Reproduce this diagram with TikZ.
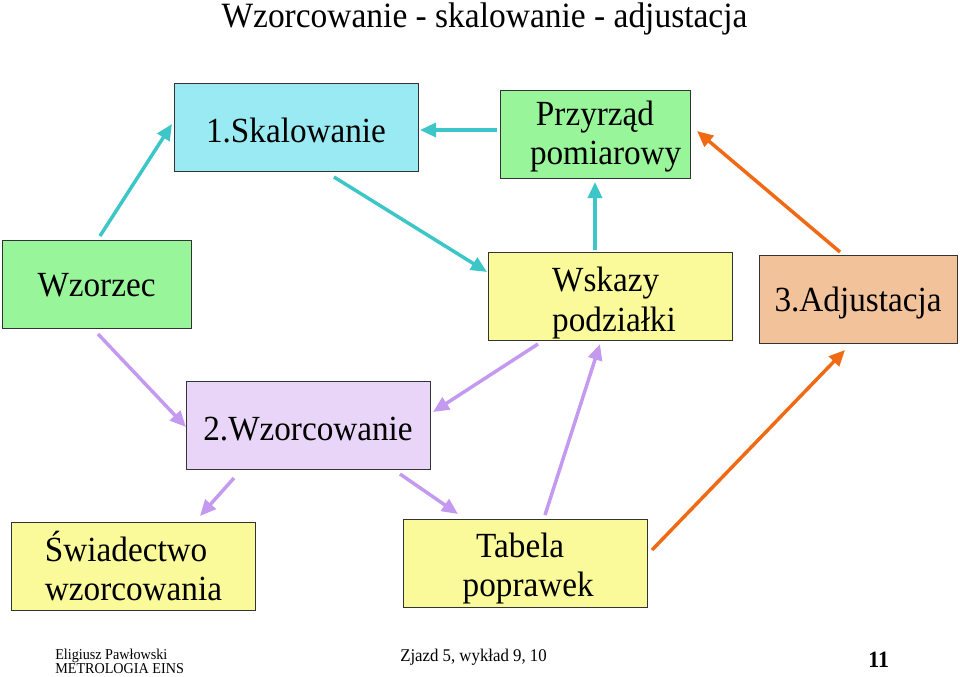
\documentclass[tikz,border=0pt]{standalone}
\usepackage{fontspec}
\setmainfont{Liberation Serif}[FakeStretch=0.94]
\usetikzlibrary{arrows.meta}
\definecolor{fcyan}{HTML}{99EAF2}
\definecolor{fgreen}{HTML}{99F599}
\definecolor{fyellow}{HTML}{FAFA9A}
\definecolor{forange}{HTML}{F2C29B}
\definecolor{flav}{HTML}{E8D5F7}
\definecolor{acyan}{HTML}{3CC6C8}
\definecolor{aorange}{HTML}{F06A14}
\definecolor{alav}{HTML}{C49AF0}
% text block lowered by #2 without changing the box size
\newcommand\boxtext[3][c]{\raisebox{-#2}[\height][\depth]{\begin{tabular}{@{}#1@{}}#3\end{tabular}}}
\begin{document}
\begin{tikzpicture}[x=0.75pt,y=-0.75pt,
  box/.style={draw=black!80, line width=0.7pt, align=center, inner sep=0pt,
    minimum height=66pt, font=\fontsize{26.5}{29.5}\selectfont},
  wbig/.style={minimum width=183pt},
  conn/.style={line width=2.6pt, -{Triangle[length=12pt,width=10.5pt]}},
  cyanarr/.style={conn, draw=acyan, fill=acyan},
  orarr/.style={conn, draw=aorange, fill=aorange},
  lavarr/.style={conn, draw=alav, fill=alav},
  foot/.style={inner sep=0pt, anchor=base west}
]
\useasboundingbox (0,0) rectangle (960,676);
\fill[white] (0,0) rectangle (960,676);

\node[inner sep=0pt, anchor=base, font=\fontsize{26.7}{30}\selectfont] (title) at (484.5,27.5) {Wzorcowanie - skalowanie - adjustacja};

\node[box, wbig, fill=fcyan] (sk) at (296,127) {\boxtext{5.5pt}{1.Skalowanie}};
\node[box, minimum width=142.5pt, fill=fgreen] (prz) at (595,134) {\boxtext{2.3pt}{Przyrząd\\\hspace*{16pt}pomiarowy}};
\node[box, minimum width=141.75pt, fill=fgreen] (wz) at (96.5,284) {\boxtext{3.5pt}{Wzorzec}};
\node[box, wbig, fill=fyellow] (wsk) at (610,296) {\hspace*{6pt}\boxtext[l]{5.7pt}{Wskazy\\podziałki}};
\node[box, minimum width=148.5pt, fill=forange] (adj) at (858,299) {\boxtext{3.8pt}{3.Adjustacja}};
\node[box, wbig, fill=flav] (wzc) at (308,425) {\boxtext{6pt}{2.Wzorcowanie}};
\node[box, wbig, fill=fyellow] (sw) at (133.5,566) {\boxtext[l]{4.2pt}{Świadectwo\\wzorcowania}};
\node[box, wbig, fill=fyellow] (tab) at (525.5,563) {\boxtext{4.5pt}{Tabela\hspace*{8pt}\\\hspace*{4pt}poprawek}};

% connector end points
\coordinate (c1s) at (100,236); \coordinate (c1e) at (172,124);
\coordinate (c2s) at (497,130); \coordinate (c2e) at (420,130);
\coordinate (c3s) at (334,177); \coordinate (c3e) at (487,272);
\coordinate (c4s) at (595,250); \coordinate (c4e) at (595,182);
\coordinate (o1s) at (840,252); \coordinate (o1e) at (697,131);
\coordinate (o2s) at (652,550); \coordinate (o2e) at (845,350);
\coordinate (l1s) at (98,334);  \coordinate (l1e) at (186,427);
\coordinate (l2s) at (538,344); \coordinate (l2e) at (433,412);
\coordinate (l3s) at (234,478); \coordinate (l3e) at (200,516);
\coordinate (l4s) at (400,474); \coordinate (l4e) at (458,514);
\coordinate (l5s) at (545,515); \coordinate (l5e) at (600,344);

\draw[cyanarr] (c1s) -- (c1e);
\draw[cyanarr] (c2s) -- (c2e);
\draw[cyanarr] (c3s) -- (c3e);
\draw[cyanarr] (c4s) -- (c4e);
\draw[orarr] (o1s) -- (o1e);
\draw[orarr] (o2s) -- (o2e);
\draw[lavarr] (l1s) -- (l1e);
\draw[lavarr] (l2s) -- (l2e);
\draw[lavarr] (l3s) -- (l3e);
\draw[lavarr] (l4s) -- (l4e);
\draw[lavarr] (l5s) -- (l5e);

\node[foot, font=\fontsize{11.3}{12}\selectfont] (f1) at (55,659) {Eligiusz Pawłowski};
\node[foot, font=\fontsize{11.3}{12}\selectfont] (f2) at (55,673) {METROLOGIA EINS};
\node[foot, font=\fontsize{13.4}{14}\selectfont] (f3) at (400,661) {Zjazd 5, wykład 9, 10};
\node[foot, font=\fontsize{17.5}{18}\bfseries] (f4) at (868,667) {11};
\end{tikzpicture}
\end{document}
